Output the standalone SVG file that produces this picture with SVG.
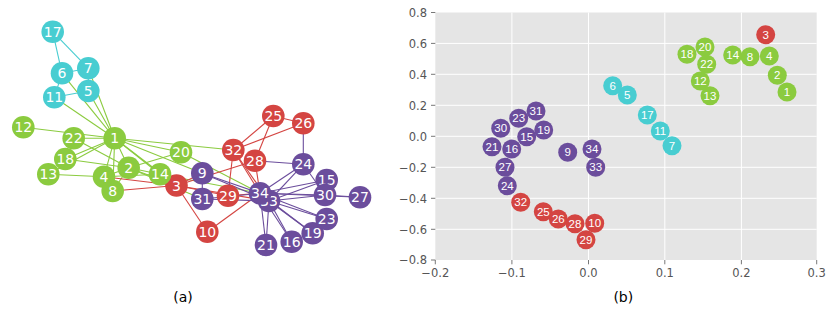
<svg xmlns="http://www.w3.org/2000/svg" width="831" height="313" viewBox="0 0 831 313">
<style>
text{font-family:"DejaVu Sans","Liberation Sans",sans-serif}
.g{fill:#8bcb3f}.c{fill:#48cdd1}.r{fill:#d44542}.p{fill:#6b4d9c}
.eg{stroke:#8bcb3f}.ec{stroke:#48cdd1}.er{stroke:#d44542}.ep{stroke:#6b4d9c}
#edges line{stroke-width:1.1}
.la{fill:#fff;font-size:14px;text-anchor:middle}
.lb{fill:#fff;font-size:11.5px;text-anchor:middle;font-family:"Liberation Sans",Arial,sans-serif}
.tk{fill:#555;font-size:11.5px}
.grid line{stroke:#fff;stroke-width:1}
.tm line{stroke:#555;stroke-width:0.8}
</style>
<rect width="831" height="313" fill="#fff"/>
<g id="edges">
<g class="eg">
<line x1="114.7" y1="138.3" x2="128.7" y2="167.7"/>
<line x1="114.7" y1="138.3" x2="176.5" y2="185.5"/>
<line x1="114.7" y1="138.3" x2="104" y2="176.7"/>
<line x1="114.7" y1="138.3" x2="88.3" y2="91"/>
<line x1="114.7" y1="138.3" x2="62" y2="73.3"/>
<line x1="114.7" y1="138.3" x2="88.3" y2="68.3"/>
<line x1="114.7" y1="138.3" x2="112.7" y2="191"/>
<line x1="114.7" y1="138.3" x2="202.3" y2="173.3"/>
<line x1="114.7" y1="138.3" x2="54.3" y2="97.3"/>
<line x1="114.7" y1="138.3" x2="23.3" y2="127.3"/>
<line x1="114.7" y1="138.3" x2="48.3" y2="174.3"/>
<line x1="114.7" y1="138.3" x2="160" y2="174.3"/>
<line x1="114.7" y1="138.3" x2="65.3" y2="159"/>
<line x1="114.7" y1="138.3" x2="181" y2="152.3"/>
<line x1="114.7" y1="138.3" x2="73.7" y2="138.3"/>
<line x1="114.7" y1="138.3" x2="233.3" y2="150"/>
<line x1="128.7" y1="167.7" x2="176.5" y2="185.5"/>
<line x1="128.7" y1="167.7" x2="104" y2="176.7"/>
<line x1="128.7" y1="167.7" x2="112.7" y2="191"/>
<line x1="128.7" y1="167.7" x2="160" y2="174.3"/>
<line x1="128.7" y1="167.7" x2="65.3" y2="159"/>
<line x1="128.7" y1="167.7" x2="181" y2="152.3"/>
<line x1="128.7" y1="167.7" x2="73.7" y2="138.3"/>
<line x1="128.7" y1="167.7" x2="202.3" y2="199"/>
<line x1="104" y1="176.7" x2="112.7" y2="191"/>
<line x1="104" y1="176.7" x2="48.3" y2="174.3"/>
<line x1="104" y1="176.7" x2="160" y2="174.3"/>
<line x1="160" y1="174.3" x2="260" y2="193.3"/>
<line x1="181" y1="152.3" x2="260" y2="193.3"/>
</g>
<g class="ec">
<line x1="88.3" y1="91" x2="88.3" y2="68.3"/>
<line x1="88.3" y1="91" x2="54.3" y2="97.3"/>
<line x1="62" y1="73.3" x2="88.3" y2="68.3"/>
<line x1="62" y1="73.3" x2="54.3" y2="97.3"/>
<line x1="62" y1="73.3" x2="52.7" y2="31.7"/>
<line x1="88.3" y1="68.3" x2="52.7" y2="31.7"/>
</g>
<g class="er">
<line x1="176.5" y1="185.5" x2="104" y2="176.7"/>
<line x1="176.5" y1="185.5" x2="112.7" y2="191"/>
<line x1="176.5" y1="185.5" x2="202.3" y2="173.3"/>
<line x1="176.5" y1="185.5" x2="207.3" y2="231.7"/>
<line x1="176.5" y1="185.5" x2="160" y2="174.3"/>
<line x1="176.5" y1="185.5" x2="255" y2="160.7"/>
<line x1="176.5" y1="185.5" x2="228" y2="195.7"/>
<line x1="176.5" y1="185.5" x2="269" y2="201"/>
<line x1="207.3" y1="231.7" x2="260" y2="193.3"/>
<line x1="273.3" y1="116" x2="303.3" y2="123.3"/>
<line x1="273.3" y1="116" x2="255" y2="160.7"/>
<line x1="273.3" y1="116" x2="233.3" y2="150"/>
<line x1="303.3" y1="123.3" x2="233.3" y2="150"/>
<line x1="255" y1="160.7" x2="260" y2="193.3"/>
<line x1="228" y1="195.7" x2="233.3" y2="150"/>
<line x1="228" y1="195.7" x2="260" y2="193.3"/>
<line x1="233.3" y1="150" x2="269" y2="201"/>
<line x1="233.3" y1="150" x2="260" y2="193.3"/>
</g>
<g class="ep">
<line x1="202.3" y1="173.3" x2="202.3" y2="199"/>
<line x1="202.3" y1="173.3" x2="269" y2="201"/>
<line x1="202.3" y1="173.3" x2="260" y2="193.3"/>
<line x1="326.7" y1="180" x2="269" y2="201"/>
<line x1="326.7" y1="180" x2="260" y2="193.3"/>
<line x1="291.7" y1="241.7" x2="269" y2="201"/>
<line x1="291.7" y1="241.7" x2="260" y2="193.3"/>
<line x1="312.7" y1="233.3" x2="269" y2="201"/>
<line x1="312.7" y1="233.3" x2="260" y2="193.3"/>
<line x1="266" y1="245" x2="269" y2="201"/>
<line x1="266" y1="245" x2="260" y2="193.3"/>
<line x1="326.7" y1="219" x2="269" y2="201"/>
<line x1="326.7" y1="219" x2="260" y2="193.3"/>
<line x1="303.3" y1="164.3" x2="303.3" y2="123.3"/>
<line x1="303.3" y1="164.3" x2="255" y2="160.7"/>
<line x1="303.3" y1="164.3" x2="325" y2="195"/>
<line x1="303.3" y1="164.3" x2="269" y2="201"/>
<line x1="303.3" y1="164.3" x2="260" y2="193.3"/>
<line x1="360" y1="197.3" x2="325" y2="195"/>
<line x1="360" y1="197.3" x2="260" y2="193.3"/>
<line x1="325" y1="195" x2="269" y2="201"/>
<line x1="325" y1="195" x2="260" y2="193.3"/>
<line x1="202.3" y1="199" x2="269" y2="201"/>
<line x1="202.3" y1="199" x2="260" y2="193.3"/>
<line x1="269" y1="201" x2="260" y2="193.3"/>
</g>
</g>
<g id="panel-a">
<g id="a1"><circle class="g" cx="114.7" cy="138.3" r="11.3"/><text class="la" x="114.7" y="143.4">1</text></g>
<g id="a2"><circle class="g" cx="128.7" cy="167.7" r="11.3"/><text class="la" x="128.7" y="172.8">2</text></g>
<g id="a3"><circle class="r" cx="176.5" cy="185.5" r="11.3"/><text class="la" x="176.5" y="190.6">3</text></g>
<g id="a4"><circle class="g" cx="104" cy="176.7" r="11.3"/><text class="la" x="104" y="181.8">4</text></g>
<g id="a5"><circle class="c" cx="88.3" cy="91" r="11.3"/><text class="la" x="88.3" y="96.1">5</text></g>
<g id="a6"><circle class="c" cx="62" cy="73.3" r="11.3"/><text class="la" x="62" y="78.4">6</text></g>
<g id="a7"><circle class="c" cx="88.3" cy="68.3" r="11.3"/><text class="la" x="88.3" y="73.4">7</text></g>
<g id="a8"><circle class="g" cx="112.7" cy="191" r="11.3"/><text class="la" x="112.7" y="196.1">8</text></g>
<g id="a9"><circle class="p" cx="202.3" cy="173.3" r="11.3"/><text class="la" x="202.3" y="178.4">9</text></g>
<g id="a10"><circle class="r" cx="207.3" cy="231.7" r="11.3"/><text class="la" x="207.3" y="236.8">10</text></g>
<g id="a11"><circle class="c" cx="54.3" cy="97.3" r="11.3"/><text class="la" x="54.3" y="102.4">11</text></g>
<g id="a12"><circle class="g" cx="23.3" cy="127.3" r="11.3"/><text class="la" x="23.3" y="132.4">12</text></g>
<g id="a13"><circle class="g" cx="48.3" cy="174.3" r="11.3"/><text class="la" x="48.3" y="179.4">13</text></g>
<g id="a14"><circle class="g" cx="160" cy="174.3" r="11.3"/><text class="la" x="160" y="179.4">14</text></g>
<g id="a15"><circle class="p" cx="326.7" cy="180" r="11.3"/><text class="la" x="326.7" y="185.1">15</text></g>
<g id="a16"><circle class="p" cx="291.7" cy="241.7" r="11.3"/><text class="la" x="291.7" y="246.8">16</text></g>
<g id="a17"><circle class="c" cx="52.7" cy="31.7" r="11.3"/><text class="la" x="52.7" y="36.8">17</text></g>
<g id="a18"><circle class="g" cx="65.3" cy="159" r="11.3"/><text class="la" x="65.3" y="164.1">18</text></g>
<g id="a19"><circle class="p" cx="312.7" cy="233.3" r="11.3"/><text class="la" x="312.7" y="238.4">19</text></g>
<g id="a20"><circle class="g" cx="181" cy="152.3" r="11.3"/><text class="la" x="181" y="157.4">20</text></g>
<g id="a21"><circle class="p" cx="266" cy="245" r="11.3"/><text class="la" x="266" y="250.1">21</text></g>
<g id="a22"><circle class="g" cx="73.7" cy="138.3" r="11.3"/><text class="la" x="73.7" y="143.4">22</text></g>
<g id="a23"><circle class="p" cx="326.7" cy="219" r="11.3"/><text class="la" x="326.7" y="224.1">23</text></g>
<g id="a24"><circle class="p" cx="303.3" cy="164.3" r="11.3"/><text class="la" x="303.3" y="169.4">24</text></g>
<g id="a25"><circle class="r" cx="273.3" cy="116" r="11.3"/><text class="la" x="273.3" y="121.1">25</text></g>
<g id="a26"><circle class="r" cx="303.3" cy="123.3" r="11.3"/><text class="la" x="303.3" y="128.4">26</text></g>
<g id="a27"><circle class="p" cx="360" cy="197.3" r="11.3"/><text class="la" x="360" y="202.4">27</text></g>
<g id="a28"><circle class="r" cx="255" cy="160.7" r="11.3"/><text class="la" x="255" y="165.8">28</text></g>
<g id="a29"><circle class="r" cx="228" cy="195.7" r="11.3"/><text class="la" x="228" y="200.8">29</text></g>
<g id="a30"><circle class="p" cx="325" cy="195" r="11.3"/><text class="la" x="325" y="200.1">30</text></g>
<g id="a31"><circle class="p" cx="202.3" cy="199" r="11.3"/><text class="la" x="202.3" y="204.1">31</text></g>
<g id="a32"><circle class="r" cx="233.3" cy="150" r="11.3"/><text class="la" x="233.3" y="155.1">32</text></g>
<g id="a33"><circle class="p" cx="269" cy="201" r="11.3"/><text class="la" x="269" y="206.1">33</text></g>
<g id="a34"><circle class="p" cx="260" cy="193.3" r="11.3"/><text class="la" x="260" y="198.4">34</text></g>
</g>
<text x="183" y="302" font-size="14" text-anchor="middle" fill="#000">(a)</text>
<g id="panel-b">
<rect x="435.3" y="12.5" width="381.4" height="247.5" fill="#e5e5e5"/>
<g class="grid">
<line x1="511.9" y1="12.5" x2="511.9" y2="260"/>
<line x1="588.5" y1="12.5" x2="588.5" y2="260"/>
<line x1="664.8" y1="12.5" x2="664.8" y2="260"/>
<line x1="741.4" y1="12.5" x2="741.4" y2="260"/>
<line x1="435.3" y1="43.4" x2="816.7" y2="43.4"/>
<line x1="435.3" y1="74.3" x2="816.7" y2="74.3"/>
<line x1="435.3" y1="105.3" x2="816.7" y2="105.3"/>
<line x1="435.3" y1="136.3" x2="816.7" y2="136.3"/>
<line x1="435.3" y1="167.3" x2="816.7" y2="167.3"/>
<line x1="435.3" y1="198.3" x2="816.7" y2="198.3"/>
<line x1="435.3" y1="229.3" x2="816.7" y2="229.3"/>
</g>
<g class="tm">
<line x1="431" y1="12.5" x2="435.3" y2="12.5"/>
<line x1="431" y1="43.4" x2="435.3" y2="43.4"/>
<line x1="431" y1="74.3" x2="435.3" y2="74.3"/>
<line x1="431" y1="105.3" x2="435.3" y2="105.3"/>
<line x1="431" y1="136.3" x2="435.3" y2="136.3"/>
<line x1="431" y1="167.3" x2="435.3" y2="167.3"/>
<line x1="431" y1="198.3" x2="435.3" y2="198.3"/>
<line x1="431" y1="229.3" x2="435.3" y2="229.3"/>
<line x1="431" y1="260" x2="435.3" y2="260"/>
<line x1="435.3" y1="260" x2="435.3" y2="264.3"/>
<line x1="511.9" y1="260" x2="511.9" y2="264.3"/>
<line x1="588.5" y1="260" x2="588.5" y2="264.3"/>
<line x1="664.8" y1="260" x2="664.8" y2="264.3"/>
<line x1="741.4" y1="260" x2="741.4" y2="264.3"/>
<line x1="816.7" y1="260" x2="816.7" y2="264.3"/>
</g>
<g class="tk" text-anchor="end">
<text x="427" y="16.7">0.8</text>
<text x="427" y="47.6">0.6</text>
<text x="427" y="78.5">0.4</text>
<text x="427" y="109.5">0.2</text>
<text x="427" y="140.5">0.0</text>
<text x="427" y="171.5">−0.2</text>
<text x="427" y="202.5">−0.4</text>
<text x="427" y="233.5">−0.6</text>
<text x="427" y="264.2">−0.8</text>
</g>
<g class="tk" text-anchor="middle">
<text x="435.3" y="277">−0.2</text>
<text x="511.9" y="277">−0.1</text>
<text x="588.5" y="277">0.0</text>
<text x="664.8" y="277">0.1</text>
<text x="741.4" y="277">0.2</text>
<text x="816.7" y="277">0.3</text>
</g>
<g id="b1"><circle class="g" cx="787" cy="92" r="9.5"/><text class="lb" x="787" y="96.1">1</text></g>
<g id="b2"><circle class="g" cx="777.3" cy="75.3" r="9.5"/><text class="lb" x="777.3" y="79.4">2</text></g>
<g id="b3"><circle class="r" cx="765.7" cy="34.7" r="9.5"/><text class="lb" x="765.7" y="38.8">3</text></g>
<g id="b4"><circle class="g" cx="769.3" cy="56" r="9.5"/><text class="lb" x="769.3" y="60.1">4</text></g>
<g id="b5"><circle class="c" cx="627.3" cy="95" r="9.5"/><text class="lb" x="627.3" y="99.1">5</text></g>
<g id="b6"><circle class="c" cx="612.7" cy="85.7" r="9.5"/><text class="lb" x="612.7" y="89.8">6</text></g>
<g id="b7"><circle class="c" cx="672" cy="145.7" r="9.5"/><text class="lb" x="672" y="149.8">7</text></g>
<g id="b8"><circle class="g" cx="750" cy="56.7" r="9.5"/><text class="lb" x="750" y="60.8">8</text></g>
<g id="b9"><circle class="p" cx="567.7" cy="152.3" r="9.5"/><text class="lb" x="567.7" y="156.4">9</text></g>
<g id="b10"><circle class="r" cx="594.7" cy="223.3" r="9.5"/><text class="lb" x="594.7" y="227.4">10</text></g>
<g id="b11"><circle class="c" cx="660.3" cy="131" r="9.5"/><text class="lb" x="660.3" y="135.1">11</text></g>
<g id="b12"><circle class="g" cx="700.3" cy="81" r="9.5"/><text class="lb" x="700.3" y="85.1">12</text></g>
<g id="b13"><circle class="g" cx="710" cy="95.7" r="9.5"/><text class="lb" x="710" y="99.8">13</text></g>
<g id="b14"><circle class="g" cx="732.7" cy="55" r="9.5"/><text class="lb" x="732.7" y="59.1">14</text></g>
<g id="b15"><circle class="p" cx="526.7" cy="136.7" r="9.5"/><text class="lb" x="526.7" y="140.8">15</text></g>
<g id="b16"><circle class="p" cx="511.7" cy="149" r="9.5"/><text class="lb" x="511.7" y="153.1">16</text></g>
<g id="b17"><circle class="c" cx="647.3" cy="115" r="9.5"/><text class="lb" x="647.3" y="119.1">17</text></g>
<g id="b18"><circle class="g" cx="687" cy="54.3" r="9.5"/><text class="lb" x="687" y="58.4">18</text></g>
<g id="b19"><circle class="p" cx="543.7" cy="130" r="9.5"/><text class="lb" x="543.7" y="134.1">19</text></g>
<g id="b20"><circle class="g" cx="705" cy="47" r="9.5"/><text class="lb" x="705" y="51.1">20</text></g>
<g id="b21"><circle class="p" cx="492" cy="146.7" r="9.5"/><text class="lb" x="492" y="150.8">21</text></g>
<g id="b22"><circle class="g" cx="706.7" cy="64.3" r="9.5"/><text class="lb" x="706.7" y="68.4">22</text></g>
<g id="b23"><circle class="p" cx="518.7" cy="118.3" r="9.5"/><text class="lb" x="518.7" y="122.4">23</text></g>
<g id="b24"><circle class="p" cx="507.3" cy="185.7" r="9.5"/><text class="lb" x="507.3" y="189.8">24</text></g>
<g id="b25"><circle class="r" cx="543.3" cy="211.7" r="9.5"/><text class="lb" x="543.3" y="215.8">25</text></g>
<g id="b26"><circle class="r" cx="558.3" cy="219" r="9.5"/><text class="lb" x="558.3" y="223.1">26</text></g>
<g id="b27"><circle class="p" cx="505" cy="167.3" r="9.5"/><text class="lb" x="505" y="171.4">27</text></g>
<g id="b28"><circle class="r" cx="575" cy="223.7" r="9.5"/><text class="lb" x="575" y="227.8">28</text></g>
<g id="b29"><circle class="r" cx="586" cy="239.7" r="9.5"/><text class="lb" x="586" y="243.8">29</text></g>
<g id="b30"><circle class="p" cx="500.7" cy="128.3" r="9.5"/><text class="lb" x="500.7" y="132.4">30</text></g>
<g id="b31"><circle class="p" cx="536" cy="111" r="9.5"/><text class="lb" x="536" y="115.1">31</text></g>
<g id="b32"><circle class="r" cx="520.7" cy="202.3" r="9.5"/><text class="lb" x="520.7" y="206.4">32</text></g>
<g id="b33"><circle class="p" cx="595.7" cy="167.3" r="9.5"/><text class="lb" x="595.7" y="171.4">33</text></g>
<g id="b34"><circle class="p" cx="592" cy="149" r="9.5"/><text class="lb" x="592" y="153.1">34</text></g>
<polygon points="584.5,226 582.8,229.2 586.2,229.2" fill="#fff"/>
</g>
<text x="623.3" y="302" font-size="14" text-anchor="middle" fill="#000">(b)</text>
</svg>
